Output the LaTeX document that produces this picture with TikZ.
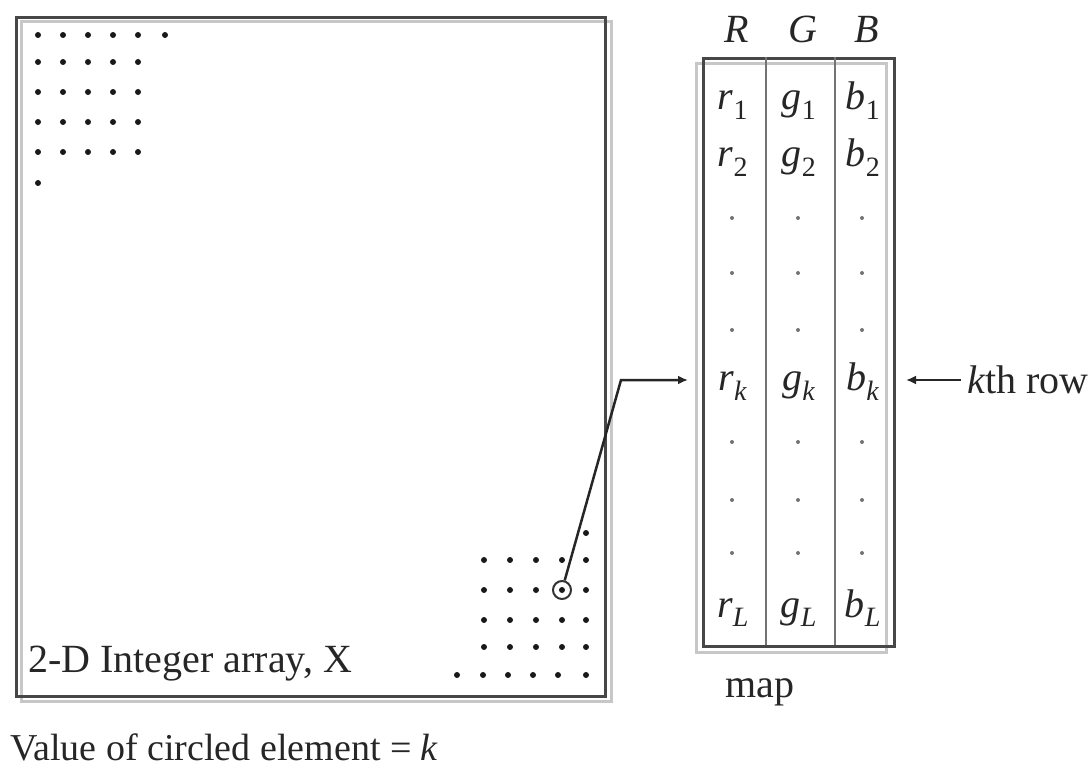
\documentclass[tikz,border=0pt]{standalone}
\usepackage{fontspec}
\setmainfont{Liberation Serif}
\usetikzlibrary{arrows.meta}
\newcommand{\sym}[2]{\textit{#1}\textsubscript{#2}}
\begin{document}
\begin{tikzpicture}[x=1pt,y=-1pt,
  frame/.style={draw=black!72, line width=3pt},
  ghost/.style={draw=black!22, line width=3pt},
  divider/.style={draw=black!55, line width=2.5pt},
  dot/.style={circle, fill=black!90, inner sep=0pt, minimum size=6pt},
  sdot/.style={circle, fill=black!55, inner sep=0pt, minimum size=4pt},
  lbl/.style={font=\fontsize{40}{44}\selectfont, text=black!85, inner sep=0pt},
  cell/.style={font=\fontsize{40}{44}\selectfont, text=black!85, inner sep=0pt, anchor=base},
  arr/.style={line width=2.5pt, draw=black!85, -{Latex[length=10pt,width=9pt]}}]
\useasboundingbox (0,0) rectangle (1089,770);

% 2-D array
\draw[ghost] (21,22) rectangle (611,701);
\node[frame, minimum width=589pt, minimum height=679pt, anchor=north west, inner sep=0pt] (array) at (15,16) {};

% top-left dots
\foreach \x in {38,63,88,113,138,165} \node[dot] at (\x,35) {};
\foreach \y in {62,92,122,152} \foreach \x in {38,63,88,113,138} \node[dot] at (\x,\y) {};
\node[dot] at (38,183) {};

% bottom-right dots
\node[dot] at (586,533) {};
\foreach \y in {560,590,620,647} \foreach \x in {484,510,536,562,586} \node[dot] at (\x,\y) {};
\foreach \x in {457,483,508,533,558,586} \node[dot] at (\x,675) {};
\node[circle, draw=black!80, line width=2pt, minimum size=18pt, inner sep=0pt] (circ) at (562,590) {};

\node[lbl, anchor=base west] (arrlabel) at (28,672) {2-D Integer array, X};
\node[lbl, anchor=base west, font=\fontsize{38}{42}\selectfont] (value) at (10,760) {Value of circled element = \textit{k}};

% map table
\draw[ghost] (696,64) rectangle (886,652);
\node[frame, minimum width=191pt, minimum height=588pt, anchor=north west, inner sep=0pt] (map) at (702,57) {};
\draw[divider] (766,57) -- (766,645);
\draw[divider] (835,57) -- (835,645);

\node[cell] (hR) at (737,43) {\textit{R}};
\node[cell] (hG) at (803,43) {\textit{G}};
\node[cell] (hB) at (867,43) {\textit{B}};

\node[cell] (r1) at (733,110) {\sym{r}{1}};
\node[cell] (g1) at (799,110) {\sym{g}{1}};
\node[cell] (b1) at (863,110) {\sym{b}{1}};
\node[cell] (r2) at (733,167) {\sym{r}{2}};
\node[cell] (g2) at (799,167) {\sym{g}{2}};
\node[cell] (b2) at (863,167) {\sym{b}{2}};
\node[cell] (rk) at (733,390) {\sym{r}{\textit{k}}};
\node[cell] (gk) at (799,390) {\sym{g}{\textit{k}}};
\node[cell] (bk) at (863,390) {\sym{b}{\textit{k}}};
\node[cell] (rL) at (733,617) {\sym{r}{\textit{L}}};
\node[cell] (gL) at (799,617) {\sym{g}{\textit{L}}};
\node[cell] (bL) at (863,617) {\sym{b}{\textit{L}}};
\foreach \y in {218,273,330,442,500,553}
  \foreach \x in {732,798,862} \node[sdot] at (\x,\y) {};

\node[lbl, anchor=base] (maplabel) at (760,697) {map};
\node[lbl, anchor=base west] (kth) at (967,393) {\textit{k}th row};

% connectors
\coordinate (bend) at (621,380);
\draw[arr, shorten >=14pt] (circ) -- (bend) -- (map.west |- bend);
\draw[arr, shorten >=10pt] ([xshift=-6pt]kth.west |- bend) -- (map.east |- bend);
\end{tikzpicture}
\end{document}
